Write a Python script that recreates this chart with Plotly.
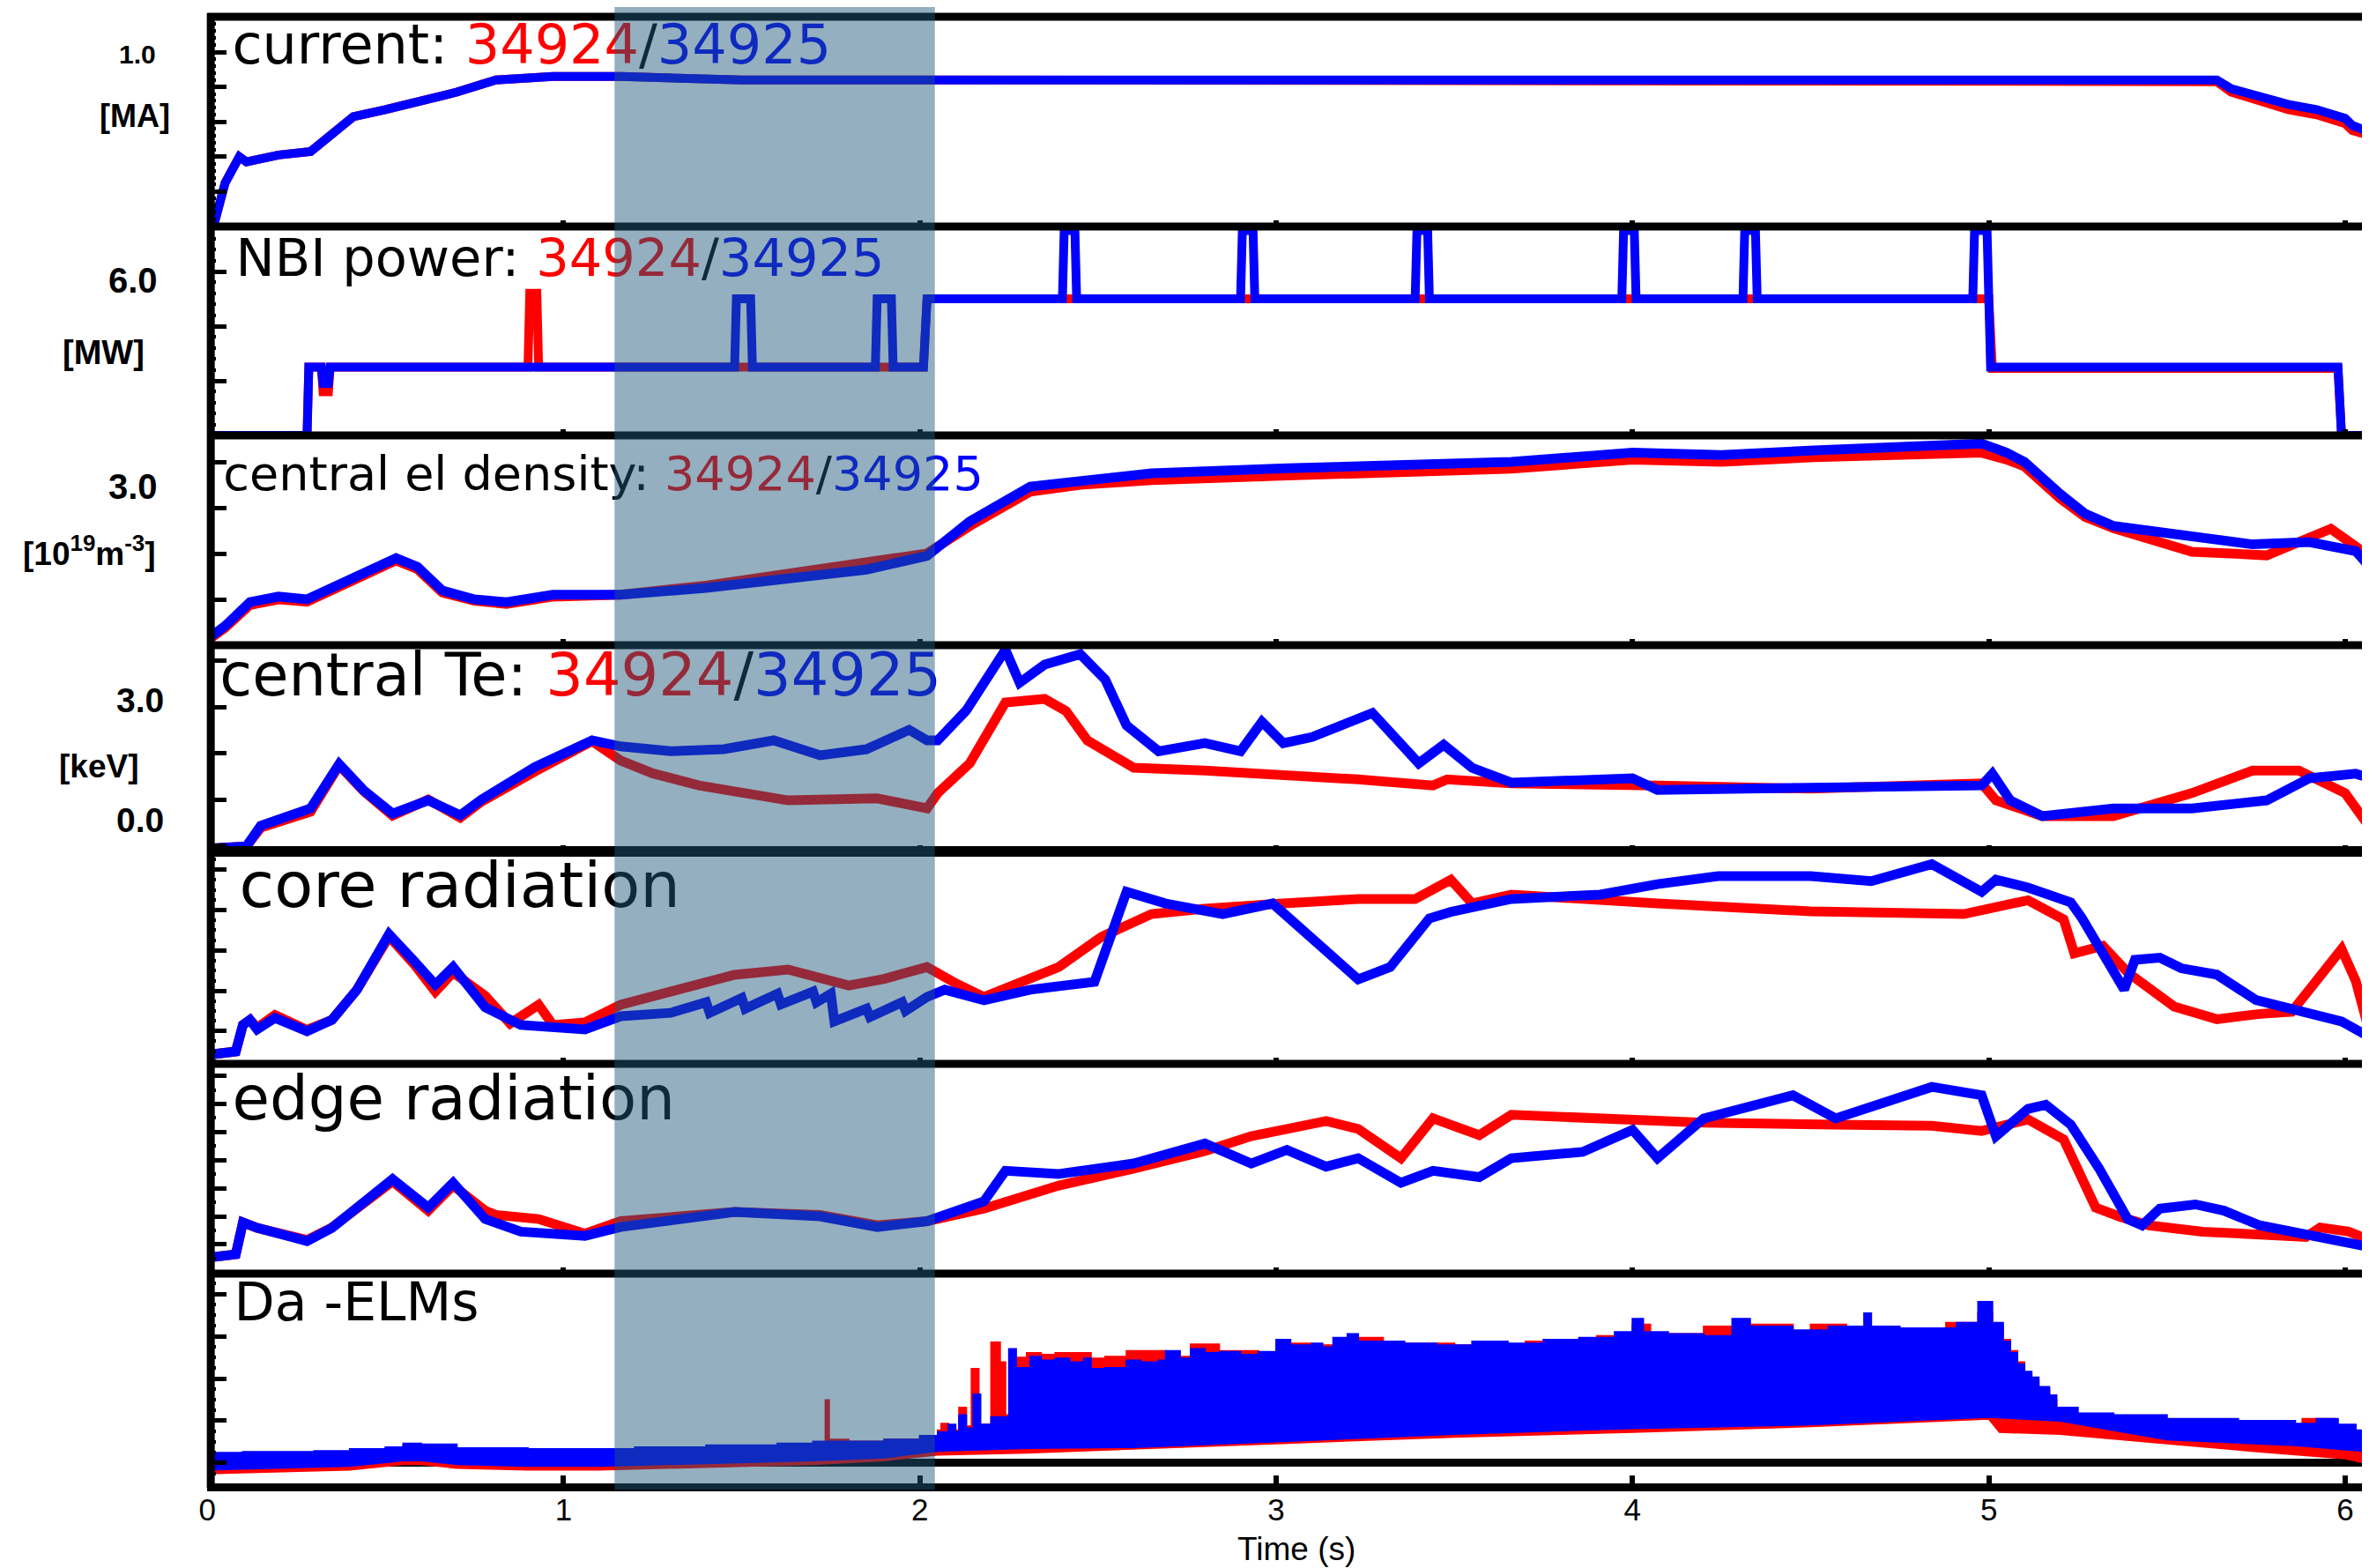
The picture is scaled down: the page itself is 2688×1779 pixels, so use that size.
import plotly.graph_objects as go

W, H = 2688, 1779          # browser window
OX, OY = 8, 8              # page body margin
FW, FH = W - OX, H - OY    # figure size
RED = "#ff0000"
BLUE = "#0000ff"
SHOT_A, SHOT_B = "34924", "34925"

# ---------------- data ----------------
# Panel 1: plasma current [MA]
cur_t = [0.0, 0.02, 0.05, 0.09, 0.11, 0.2, 0.29, 0.41, 0.5, 0.61, 0.7, 0.81, 0.97, 1.16, 1.5,
         2.0, 3.0, 4.0, 5.0, 5.3, 5.64, 5.68, 5.84, 5.92, 6.0, 6.02, 6.07]
cur_b = [0.0, 0.02, 0.25, 0.40, 0.37, 0.41, 0.43, 0.63, 0.67, 0.72, 0.77, 0.84, 0.86, 0.86, 0.84,
         0.84, 0.84, 0.84, 0.83, 0.83, 0.84, 0.79, 0.70, 0.67, 0.62, 0.58, 0.54]
cur_r = [0.0, 0.02, 0.25, 0.40, 0.37, 0.41, 0.43, 0.63, 0.67, 0.72, 0.77, 0.84, 0.86, 0.86, 0.84,
         0.84, 0.84, 0.84, 0.83, 0.83, 0.83, 0.77, 0.67, 0.64, 0.59, 0.55, 0.52]

# Panel 2: NBI power [MW]
nbi_t_r = [0.0, 0.28, 0.285, 0.32, 0.325, 0.34, 0.345, 0.9, 0.905, 0.925, 0.93, 2.01, 2.02,
           5.0, 5.01, 5.98, 5.99, 6.07]
nbi_r = [0, 0, 2.5, 2.5, 1.6, 1.6, 2.5, 2.5, 5.2, 5.2, 2.5, 2.5, 5.0,
         5.0, 2.45, 2.45, 0, 0]
nbi_t_b = [0.0, 0.28, 0.285, 0.32, 0.325, 0.34, 0.345,
           1.48, 1.485, 1.525, 1.53, 1.875, 1.88, 1.92, 1.925, 2.01, 2.02,
           2.40, 2.405, 2.435, 2.44, 2.90, 2.905, 2.935, 2.94, 3.39, 3.395, 3.425, 3.43,
           3.97, 3.975, 4.005, 4.01, 4.31, 4.315, 4.345, 4.35, 4.955, 4.96, 4.995, 5.005,
           5.98, 5.99, 6.07]
nbi_b = [0, 0, 2.5, 2.5, 1.9, 1.9, 2.5,
         2.5, 5.0, 5.0, 2.5, 2.5, 5.0, 5.0, 2.5, 2.5, 5.0,
         5.0, 7.5, 7.5, 5.0, 5.0, 7.5, 7.5, 5.0, 5.0, 7.5, 7.5, 5.0,
         5.0, 7.5, 7.5, 5.0, 5.0, 7.5, 7.5, 5.0, 5.0, 7.5, 7.5, 2.5,
         2.5, 0, 0]

# Panel 3: central electron density [1e19 m^-3]
ne_t_b = [0.0, 0.05, 0.12, 0.2, 0.28, 0.37, 0.45, 0.53, 0.59, 0.66, 0.75, 0.84, 0.97, 1.16, 1.4,
          1.63, 1.85, 2.02, 2.14, 2.31, 2.45, 2.65, 3.03, 3.3, 3.66, 4.0, 4.25, 4.51, 4.75, 4.98,
          5.05, 5.1, 5.2, 5.27, 5.35, 5.57, 5.74, 5.9, 6.03, 6.07]
ne_b = [0.13, 0.42, 0.94, 1.06, 1.0, 1.32, 1.6, 1.9, 1.71, 1.19, 1.0, 0.94, 1.1, 1.1, 1.25,
        1.45, 1.65, 1.95, 2.7, 3.46, 3.6, 3.75, 3.86, 3.9, 4.0, 4.2, 4.15, 4.25, 4.3, 4.4,
        4.2, 4.0, 3.3, 2.87, 2.6, 2.35, 2.2, 2.25, 2.05, 1.7]
ne_t_r = [0.0, 0.05, 0.12, 0.2, 0.28, 0.37, 0.45, 0.53, 0.59, 0.66, 0.75, 0.84, 0.97, 1.16, 1.4,
          1.63, 1.85, 2.02, 2.14, 2.31, 2.45, 2.65, 3.03, 3.3, 3.66, 4.0, 4.25, 4.51, 4.75, 4.98,
          5.05, 5.1, 5.2, 5.27, 5.35, 5.57, 5.78, 5.9, 5.96, 6.05, 6.07]
ne_r = [0.1, 0.38, 0.88, 1.0, 0.95, 1.27, 1.55, 1.85, 1.66, 1.15, 0.97, 0.9, 1.06, 1.1, 1.3,
        1.55, 1.8, 2.0, 2.6, 3.35, 3.5, 3.6, 3.7, 3.75, 3.85, 4.05, 4.0, 4.1, 4.15, 4.2,
        4.05, 3.9, 3.2, 2.8, 2.55, 2.04, 1.96, 2.37, 2.54, 2.04, 1.5]

# Panel 4: central Te [keV]
te_t_b = [0.0, 0.11, 0.15, 0.29, 0.37, 0.44, 0.52, 0.62, 0.71, 0.77, 0.92, 1.08, 1.16, 1.3, 1.45,
          1.59, 1.72, 1.85, 1.97, 2.02, 2.05, 2.13, 2.24, 2.28, 2.35, 2.45, 2.52, 2.58, 2.67, 2.8,
          2.9, 2.96, 3.02, 3.1, 3.27, 3.34, 3.4, 3.47, 3.55, 3.66, 4.0, 4.07, 4.5, 4.98, 5.01,
          5.06, 5.15, 5.35, 5.57, 5.78, 5.9, 6.03, 6.07]
te_b = [-0.72, -0.66, -0.15, 0.28, 1.38, 0.72, 0.15, 0.48, 0.11, 0.5, 1.31, 1.97, 1.82, 1.7, 1.75,
        1.97, 1.6, 1.75, 2.23, 1.97, 1.97, 2.71, 4.22, 3.4, 3.85, 4.11, 3.48, 2.34, 1.7, 1.9,
        1.7, 2.43, 1.9, 2.05, 2.65, 1.97, 1.4, 1.86, 1.29, 0.92, 1.03, 0.74, 0.77, 0.85, 1.14,
        0.48, 0.09, 0.28, 0.28, 0.48, 1.03, 1.14, 1.03]
te_t_r = [0.0, 0.11, 0.15, 0.29, 0.37, 0.44, 0.52, 0.62, 0.71, 0.77, 0.92, 1.08, 1.16, 1.25, 1.38,
          1.63, 1.88, 2.02, 2.05, 2.14, 2.24, 2.35, 2.41, 2.47, 2.6, 2.8, 3.23, 3.44, 3.48, 3.66,
          4.07, 4.5, 4.98, 5.02, 5.15, 5.35, 5.57, 5.74, 5.87, 6.0, 6.07]
te_r = [-0.72, -0.66, -0.2, 0.2, 1.35, 0.7, 0.1, 0.5, 0.05, 0.45, 1.2, 1.95, 1.47, 1.15, 0.85,
        0.48, 0.53, 0.28, 0.66, 1.4, 2.91, 3.0, 2.7, 1.97, 1.29, 1.22, 1.0, 0.85, 1.0, 0.9,
        0.85, 0.77, 0.9, 0.48, 0.09, 0.09, 0.66, 1.22, 1.22, 0.66, -0.2]

# Panel 5: core radiation [a.u.]
core_t_b = [0.0, 0.08, 0.1, 0.12, 0.14, 0.19, 0.28, 0.35, 0.42, 0.51, 0.58, 0.64, 0.69, 0.78, 0.88,
            0.97, 1.06, 1.16, 1.3, 1.4, 1.41, 1.5, 1.51, 1.6, 1.61, 1.7, 1.71, 1.75, 1.76, 1.85,
            1.86, 1.95, 1.96, 2.02, 2.07, 2.18, 2.31, 2.49, 2.58, 2.69, 2.85, 2.99, 3.1, 3.23,
            3.32, 3.43, 3.49, 3.66, 3.91, 4.07, 4.24, 4.5, 4.67, 4.84, 4.98, 5.02, 5.11, 5.23,
            5.26, 5.30, 5.38, 5.41, 5.48, 5.54, 5.64, 5.75, 5.85, 5.99, 6.07]
core_b = [0.42, 0.58, 1.83, 2.07, 1.62, 2.16, 1.54, 2.07, 3.49, 6.1, 4.85, 3.73, 4.56, 2.66, 1.83,
          1.7, 1.62, 2.24, 2.4, 2.9, 2.4, 3.1, 2.6, 3.3, 2.8, 3.4, 2.9, 3.3, 2.0, 2.6,
          2.2, 2.9, 2.5, 3.15, 3.49, 2.99, 3.49, 3.86, 8.1, 7.55, 7.05, 7.55, 5.98, 3.98,
          4.56, 6.85, 7.15, 7.76, 7.97, 8.46, 8.84, 8.84, 8.6, 9.4, 8.1, 8.67, 8.3, 7.6,
          6.9, 5.7, 3.5, 4.9, 5.0, 4.5, 4.2, 3.0, 2.6, 2.0, 1.25]
core_t_r = [0.0, 0.08, 0.1, 0.12, 0.14, 0.19, 0.28, 0.35, 0.42, 0.51, 0.58, 0.64, 0.69, 0.78, 0.85,
            0.93, 0.97, 1.06, 1.16, 1.3, 1.48, 1.63, 1.8, 1.9, 2.02, 2.1, 2.18, 2.39, 2.51, 2.65,
            2.8, 3.02, 3.23, 3.39, 3.49, 3.55, 3.66, 4.07, 4.5, 4.93, 5.11, 5.21, 5.24, 5.32,
            5.39, 5.52, 5.64, 5.76, 5.85, 5.9, 5.99, 6.03, 6.06, 6.07]
core_r = [0.42, 0.58, 1.83, 2.07, 1.7, 2.3, 1.6, 2.07, 3.49, 6.0, 4.7, 3.4, 4.3, 3.2, 1.9,
          2.78, 1.83, 1.95, 2.78, 3.4, 4.19, 4.44, 3.69, 4.0, 4.56, 3.8, 3.15, 4.56, 5.98, 7.05,
          7.3, 7.55, 7.76, 7.76, 8.67, 7.55, 7.97, 7.55, 7.18, 7.05, 7.7, 6.8, 5.2, 5.55,
          4.3, 2.7, 2.1, 2.35, 2.45, 3.5, 5.4, 3.9, 1.66, 1.4]

# Panel 6: edge radiation [a.u.]
edge_t_b = [0.0, 0.08, 0.1, 0.14, 0.28, 0.35, 0.52, 0.62, 0.69, 0.78, 0.88, 1.06, 1.16, 1.48, 1.72,
            1.88, 2.02, 2.18, 2.24, 2.39, 2.6, 2.8, 2.93, 3.03, 3.14, 3.23, 3.35, 3.44, 3.57, 3.66,
            3.86, 4.0, 4.07, 4.2, 4.45, 4.57, 4.84, 4.98, 5.02, 5.11, 5.16, 5.23, 5.31, 5.39,
            5.43, 5.48, 5.58, 5.66, 5.76, 5.89, 6.01, 6.07]
edge_b = [0.76, 0.92, 2.44, 2.18, 1.55, 2.18, 4.5, 3.15, 4.33, 2.6, 2.0, 1.8, 2.22, 2.94, 2.73,
          2.22, 2.5, 3.45, 4.9, 4.75, 5.25, 6.2, 5.25, 5.9, 5.1, 5.5, 4.33, 4.9, 4.6, 5.5,
          5.8, 6.85, 5.5, 7.4, 8.5, 7.4, 8.9, 8.5, 6.55, 7.85, 8.05, 7.1, 5.0, 2.6,
          2.3, 3.1, 3.3, 3.0, 2.3, 1.9, 1.55, 1.26]
edge_t_r = [0.0, 0.08, 0.1, 0.14, 0.28, 0.35, 0.52, 0.62, 0.69, 0.78, 0.81, 0.93, 1.06, 1.16, 1.48,
            1.72, 1.88, 2.02, 2.18, 2.39, 2.6, 2.8, 2.93, 3.03, 3.14, 3.23, 3.35, 3.44, 3.57, 3.66,
            3.86, 4.0, 4.2, 4.57, 4.84, 4.98, 5.11, 5.21, 5.3, 5.37, 5.45, 5.6, 5.76, 5.89,
            5.93, 6.01, 6.07]
edge_r = [0.76, 0.92, 2.44, 2.18, 1.6, 2.2, 4.4, 3.0, 4.2, 3.0, 2.8, 2.6, 1.9, 2.5, 2.94,
          2.8, 2.3, 2.5, 3.1, 4.2, 5.0, 5.84, 6.55, 6.85, 7.27, 6.9, 5.5, 7.4, 6.6, 7.57,
          7.4, 7.3, 7.2, 7.1, 7.05, 6.8, 7.35, 6.4, 3.15, 2.7, 2.3, 2.0, 1.9, 1.75,
          2.2, 2.0, 1.6]

# Panel 7: D-alpha (ELMs) [a.u.] -- lower / upper envelopes of the signal
da_lo_t_r = [0.0, 0.2, 0.4, 0.55, 0.6, 0.7, 0.9, 1.1, 1.3, 1.5, 1.7, 1.9, 2.05, 2.3, 2.6, 3.0,
             3.5, 4.0, 4.5, 5.0, 5.03, 5.2, 5.5, 5.76, 6.0, 6.07]
da_lo_r = [-0.6, -0.5, -0.4, -0.1, -0.1, -0.3, -0.4, -0.4, -0.3, -0.2, -0.1, 0.1, 0.4, 0.5, 0.7,
           1.0, 1.35, 1.6, 1.9, 2.3, 1.6, 1.5, 1.0, 0.56, 0.2, -0.1]
da_hi_t_r = [0.0, 0.1, 0.2, 0.3, 0.4, 0.5, 0.55, 0.6, 0.7, 0.8, 0.9, 1.0, 1.1, 1.2, 1.3, 1.4,
             1.5, 1.6, 1.7, 1.735, 1.745, 1.8, 1.9, 2.0,
             2.05, 2.06, 2.08, 2.11, 2.13, 2.145, 2.165, 2.2, 2.225, 2.24, 2.27, 2.3, 2.34, 2.38,
             2.45, 2.48, 2.52, 2.58, 2.67, 2.69, 2.76, 2.84, 2.95, 3.0, 3.1, 3.2, 3.3, 3.5, 3.7,
             3.9, 4.0, 4.05, 4.2, 4.3, 4.45, 4.5, 4.6, 4.8, 4.88, 4.97, 5.01, 5.04, 5.06, 5.08,
             5.1, 5.12, 5.14, 5.17, 5.19, 5.3, 5.5, 5.7, 5.88, 5.97, 6.03, 6.07]
da_hi_r = [0.4, 0.5, 0.5, 0.55, 0.6, 0.7, 0.9, 0.9, 0.7, 0.7, 0.6, 0.6, 0.6, 0.7, 0.7, 0.8,
           0.8, 0.9, 1.0, 3.3, 1.2, 1.1, 1.2, 1.4,
           1.7, 2.05, 1.7, 2.9, 1.9, 4.95, 2.0, 6.35, 5.3, 2.5, 5.55, 5.8, 5.7, 5.8,
           5.8, 5.5, 5.6, 5.9, 5.9, 5.6, 6.25, 5.9, 5.8, 6.3, 6.2, 6.6, 6.3, 6.2, 6.4,
           6.7, 7.3, 6.8, 7.2, 7.3, 6.9, 7.3, 7.0, 7.1, 7.4, 7.9, 7.2, 6.5, 5.9, 5.3,
           4.7, 4.3, 3.8, 3.3, 2.5, 2.2, 2.0, 1.9, 2.3, 1.9, 1.3, 0.8]
da_lo_t_b = [0.0, 0.2, 0.4, 0.55, 0.6, 0.7, 0.9, 1.1, 1.3, 1.5, 1.7, 1.9, 2.05, 2.3, 2.6, 3.0,
             3.5, 4.0, 4.5, 5.0, 5.2, 5.5, 5.86, 6.07]
da_lo_b = [-0.4, -0.3, -0.2, 0.1, 0.1, -0.1, -0.2, -0.2, -0.1, 0.0, 0.1, 0.25, 0.6, 0.75, 0.8,
           1.1, 1.5, 1.8, 2.0, 2.4, 2.2, 1.2, 0.9, 0.56]
da_hi_t_b = [0.0, 0.1, 0.2, 0.3, 0.4, 0.5, 0.55, 0.6, 0.7, 0.8, 0.9, 1.0, 1.1, 1.2, 1.3, 1.4,
             1.5, 1.6, 1.7, 1.8, 1.9, 2.0,
             2.05, 2.08, 2.10, 2.11, 2.13, 2.15, 2.17, 2.20, 2.25, 2.27, 2.31, 2.34, 2.38, 2.42,
             2.46, 2.48, 2.52, 2.58, 2.62, 2.67, 2.69, 2.73, 2.76, 2.80, 2.84, 2.90, 2.95, 3.00,
             3.04, 3.10, 3.13, 3.16, 3.20, 3.23, 3.30, 3.36, 3.45, 3.55, 3.65, 3.75, 3.85, 3.95,
             4.00, 4.03, 4.10, 4.20, 4.28, 4.33, 4.45, 4.55, 4.65, 4.67, 4.75, 4.91, 4.97, 5.01,
             5.04, 5.06, 5.08, 5.10, 5.12, 5.14, 5.17, 5.19, 5.25, 5.35, 5.5, 5.7, 5.86, 5.92,
             5.98, 6.03, 6.07]
da_hi_b = [0.5, 0.55, 0.55, 0.6, 0.7, 0.8, 1.0, 0.95, 0.75, 0.75, 0.7, 0.7, 0.7, 0.8, 0.8, 0.9,
           0.9, 1.0, 1.1, 1.1, 1.2, 1.4,
           1.6, 2.0, 1.6, 2.5, 1.8, 3.6, 2.0, 2.4, 6.0, 5.0, 5.6, 5.4, 5.5, 5.3,
           5.5, 4.95, 5.0, 5.4, 5.3, 5.4, 5.9, 5.5, 6.0, 5.8, 5.85, 5.7, 5.85, 6.5,
           6.2, 6.3, 6.1, 6.6, 6.8, 6.4, 6.4, 6.3, 6.2, 6.4, 6.3, 6.5, 6.6, 6.9,
           7.6, 6.9, 6.8, 6.7, 7.6, 7.2, 7.0, 7.2, 7.9, 7.2, 7.1, 7.4, 8.5, 7.4,
           6.4, 5.8, 5.2, 4.8, 4.5, 4.0, 3.55, 2.9, 2.6, 2.5, 2.3, 2.2, 2.05, 2.3,
           2.0, 1.7, 1.35]

x_ticks = [0, 1, 2, 3, 4, 5, 6]
shade_window = [1.143, 2.042]          # highlighted time window [s]

panel_titles = [
    "current: ",
    "NBI power: ",
    "central el density: ",
    "central Te: ",
    "core radiation",
    "edge radiation",
    "Da -ELMs",
]
with_shots = [True, True, True, True, False, False, False]

# y-axis scale labels (text, x px, y px, font size)
side_labels = [
    ("1.0", 147, 62, 30), ("[MA]", 144, 132, 36),
    ("6.0", 141, 318, 40), ("[MW]", 108, 400, 38),
    ("3.0", 141, 552, 40), ("[10<sup>19</sup>m<sup>-3</sup>]", 92, 626, 37),
    ("3.0", 150, 794, 39), ("[keV]", 102, 870, 37), ("0.0", 150, 930, 39),
]

# ---------------- layout / style ----------------
X0_PX = 226
PX_PER_S = 405.8
XMAX = (W - X0_PX) / PX_PER_S
# panel (top px, bottom px, y-range, tick0, dtick, minor dtick)
panels = [
    (19, 257, [0, 1.202], 0.0, 0.2, 0.04),
    (257, 494, [0, 7.645], 0.0, 2.0, 0.4),
    (494, 732, [0, 4.577], 0.0, 1.0, None),
    (732, 966, [-0.788, 4.333], 0.5, 1.15, None),
    (966, 1207, [0, 10], 1.54, 1.9, 0.475),
    (1207, 1445, [0, 10], 1.39, 1.34, 0.67),
    (1445, 1683, [-1.12, 10], 2.2, 2.24, 0.56),
]
# panel-title placement (x [s], y [data], font size)
title_pos = [(0.07, 1.015, 62), (0.08, 6.33, 59), (0.045, 3.65, 54), (0.035, 3.46, 67),
             (0.09, 8.14, 72), (0.07, 8.06, 69), (0.075, 8.22, 60)]
line_w = [10, 10, 11, 11, 11, 11]

series = [
    [(cur_t, cur_r, RED), (cur_t, cur_b, BLUE)],
    [(nbi_t_r, nbi_r, RED), (nbi_t_b, nbi_b, BLUE)],
    [(ne_t_r, ne_r, RED), (ne_t_b, ne_b, BLUE)],
    [(te_t_r, te_r, RED), (te_t_b, te_b, BLUE)],
    [(core_t_r, core_r, RED), (core_t_b, core_b, BLUE)],
    [(edge_t_r, edge_r, RED), (edge_t_b, edge_b, BLUE)],
]


def X(px):
    return (px - OX) / FW


def Y(px):
    return 1 - (px - OY) / FH


fig = go.Figure()

for i in range(7):
    xa = "x" if i == 0 else f"x{i+1}"
    ya = "y" if i == 0 else f"y{i+1}"
    if i < 6:
        for t, v, c in series[i]:
            fig.add_trace(go.Scatter(x=t, y=v, mode="lines", xaxis=xa, yaxis=ya,
                                     line=dict(color=c, width=line_w[i]), hoverinfo="skip"))
    else:
        for lt, lv, ht, hv, c in [(da_lo_t_r, da_lo_r, da_hi_t_r, da_hi_r, RED),
                                  (da_lo_t_b, da_lo_b, da_hi_t_b, da_hi_b, BLUE)]:
            fig.add_trace(go.Scatter(x=lt, y=lv, mode="lines", xaxis=xa, yaxis=ya,
                                     line=dict(color=c, width=2), hoverinfo="skip"))
            fig.add_trace(go.Scatter(x=ht, y=hv, mode="lines", xaxis=xa, yaxis=ya,
                                     line=dict(color=c, width=2, shape="hv"),
                                     fill="tonexty", fillcolor=c, hoverinfo="skip"))
    # panel title as a text trace (so the highlight window covers it)
    txt = panel_titles[i]
    if with_shots[i]:
        txt += (f'<span style="color:{RED}">{SHOT_A}</span>/'
                f'<span style="color:{BLUE}">{SHOT_B}</span>')
    tx, ty, ts = title_pos[i]
    fig.add_trace(go.Scatter(x=[tx], y=[ty], mode="text", text=[txt], xaxis=xa, yaxis=ya,
                             textposition="middle right", cliponaxis=False,
                             textfont=dict(family="DejaVu Sans", size=ts, color="black"),
                             hoverinfo="skip"))

layout = dict(width=FW, height=FH, margin=dict(l=0, r=0, t=0, b=0),
              paper_bgcolor="white", plot_bgcolor="white", showlegend=False)

for i, (top, bot, yr, t0, dt, mdt) in enumerate(panels):
    xk = "xaxis" if i == 0 else f"xaxis{i+1}"
    yk = "yaxis" if i == 0 else f"yaxis{i+1}"
    xa = dict(domain=[X(X0_PX), 1], range=[0, XMAX], showgrid=False, zeroline=False,
              showline=False, ticks="inside", ticklen=7, tickwidth=6, tickcolor="black",
              tickvals=x_ticks[1:], showticklabels=False,
              anchor="y" if i == 0 else f"y{i+1}")
    if i > 0:
        xa["matches"] = "x"
    if i == 6:
        xa.update(showline=True, linewidth=9, linecolor="black", ticklen=9, tickvals=x_ticks,
                  showticklabels=True,
                  tickfont=dict(family="Liberation Sans, Arial", size=35, color="black"),
                  ticklabelstandoff=-9)
    layout[xk] = xa
    ya = dict(domain=[Y(bot), Y(top)], range=yr, showgrid=False, zeroline=False,
              showline=False, ticks="inside", ticklen=22, tickwidth=5, tickcolor="black",
              tick0=t0, dtick=dt, showticklabels=False,
              anchor="x" if i == 0 else f"x{i+1}")
    if mdt:
        ya["minor"] = dict(ticks="inside", ticklen=10, tickwidth=4, tickcolor="black",
                           tick0=t0, dtick=mdt, showgrid=False)
    if i == 6:
        # D-alpha zero line lies under the signal
        ya.update(zeroline=True, zerolinecolor="black", zerolinewidth=9)
    layout[yk] = ya

fig.update_layout(**layout)

shapes = []
# panel borders
for ypx in [19, 257, 494, 732, 966, 1207, 1445]:
    shapes.append(dict(type="line", xref="paper", yref="paper", x0=X(X0_PX), x1=1,
                       y0=Y(ypx), y1=Y(ypx), layer="above",
                       line=dict(color="black", width=12 if ypx == 966 else 9)))
# left frame line
shapes.append(dict(type="line", xref="paper", yref="paper", x0=X(230), x1=X(230),
                   y0=Y(15), y1=Y(1688), layer="above", line=dict(color="black", width=9)))
# highlighted time window (drawn on top of everything)
shapes.append(dict(type="rect", xref="x", yref="paper", x0=shade_window[0], x1=shade_window[1],
                   y0=Y(1690), y1=Y(4), layer="above", line=dict(width=0),
                   fillcolor="rgba(31,87,121,0.48)"))
fig.update_layout(shapes=shapes)

ann = []
for text, xpx, ypx, size in side_labels:
    ann.append(dict(text=f"<b>{text}</b>", x=X(xpx), y=Y(ypx), xref="paper", yref="paper",
                    showarrow=False, xanchor="center", yanchor="middle",
                    font=dict(family="Liberation Sans Narrow, Liberation Sans, Arial",
                              size=size, color="black")))
ann.append(dict(text="Time (s)", x=X(1466), y=Y(1757), xref="paper", yref="paper",
                showarrow=False, xanchor="center", yanchor="middle",
                font=dict(family="Liberation Sans, Arial", size=37, color="black")))
fig.update_layout(annotations=ann)

fig.write_html("out.html")
